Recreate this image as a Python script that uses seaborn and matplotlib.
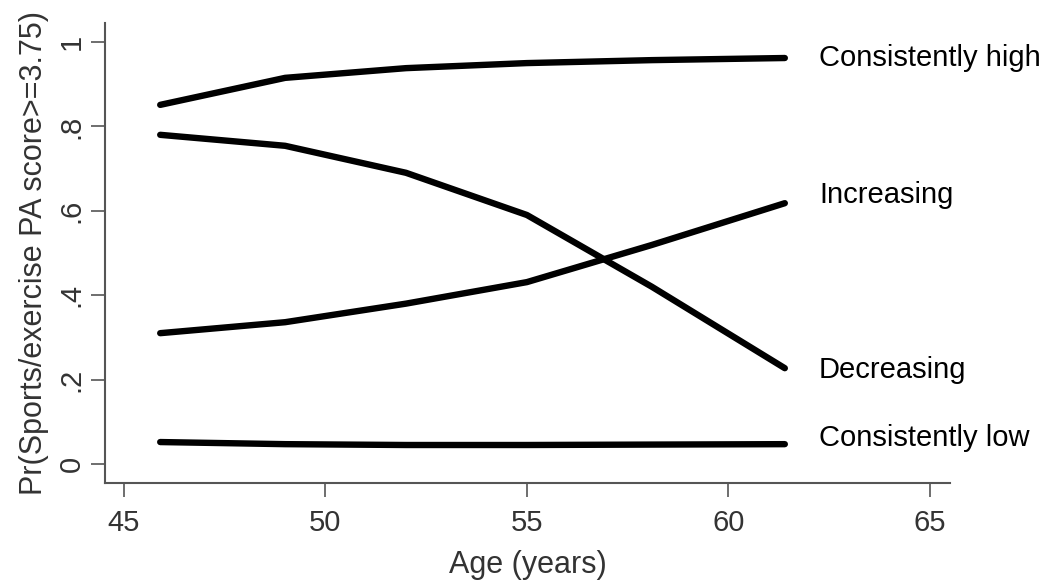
import matplotlib
matplotlib.use("Agg")
import matplotlib.pyplot as plt
import seaborn as sns
import pandas as pd

# Ages at each wave (x) and predicted probabilities per trajectory group
ages = [45.9, 49.0, 52.0, 55.0, 58.1, 61.4]
consistently_high = [0.851, 0.915, 0.938, 0.950, 0.957, 0.962]
decreasing = [0.780, 0.754, 0.690, 0.590, 0.420, 0.227]
increasing = [0.310, 0.336, 0.380, 0.431, 0.519, 0.618]
consistently_low = [0.052, 0.047, 0.045, 0.045, 0.046, 0.047]

groups = ["Consistently high", "Increasing", "Decreasing", "Consistently low"]
series = [consistently_high, increasing, decreasing, consistently_low]
# where each group name sits on the y scale
label_y = [0.962, 0.637, 0.223, 0.062]

x_ticks = [45, 50, 55, 60, 65]
y_ticks = [0, 0.2, 0.4, 0.6, 0.8, 1.0]
y_tick_labels = ["0", ".2", ".4", ".6", ".8", "1"]

df = pd.concat(
    [pd.DataFrame({"age": ages, "prob": vals, "group": g}) for g, vals in zip(groups, series)],
    ignore_index=True,
)

sns.set_style("white")
plt.rcParams["font.family"] = ["Liberation Sans", "DejaVu Sans"]

axis_grey = "#555555"
text_grey = "#333333"

fig = plt.figure(figsize=(10.5, 5.88), dpi=100)
ax = fig.add_axes([0.1, 0.1786, 0.8048, 0.7823])

sns.lineplot(data=df, x="age", y="prob", hue="group", palette=["black"] * 4,
             linewidth=4.6, legend=False, ax=ax, sort=False)

ax.set_xlim(44.53, 65.5)
ax.set_ylim(-0.045, 1.045)

ax.set_xticks(x_ticks)
ax.set_xticklabels([str(t) for t in x_ticks])
ax.set_yticks(y_ticks)
ax.set_yticklabels(y_tick_labels, rotation=90, va="center")

ax.tick_params(axis="both", direction="out", length=10, width=1.2, color=axis_grey,
               labelsize=21, labelcolor=text_grey)
ax.tick_params(axis="x", pad=9, bottom=True)
ax.tick_params(axis="y", pad=4, left=True)

for side in ["top", "right"]:
    ax.spines[side].set_visible(False)
for side in ["left", "bottom"]:
    ax.spines[side].set_color(axis_grey)
    ax.spines[side].set_linewidth(1.5)

ax.set_xlabel("Age (years)", fontsize=22, color=text_grey, labelpad=9)
ax.set_ylabel("Pr(Sports/exercise PA score>=3.75)", fontsize=22, color=text_grey, labelpad=6)

# Group labels to the right of the line ends
for g, y in zip(groups, label_y):
    ax.text(ages[-1] + 0.85, y, g, fontsize=21, color="black",
            va="center", ha="left", clip_on=False)

fig.savefig("out.png", dpi=100)
